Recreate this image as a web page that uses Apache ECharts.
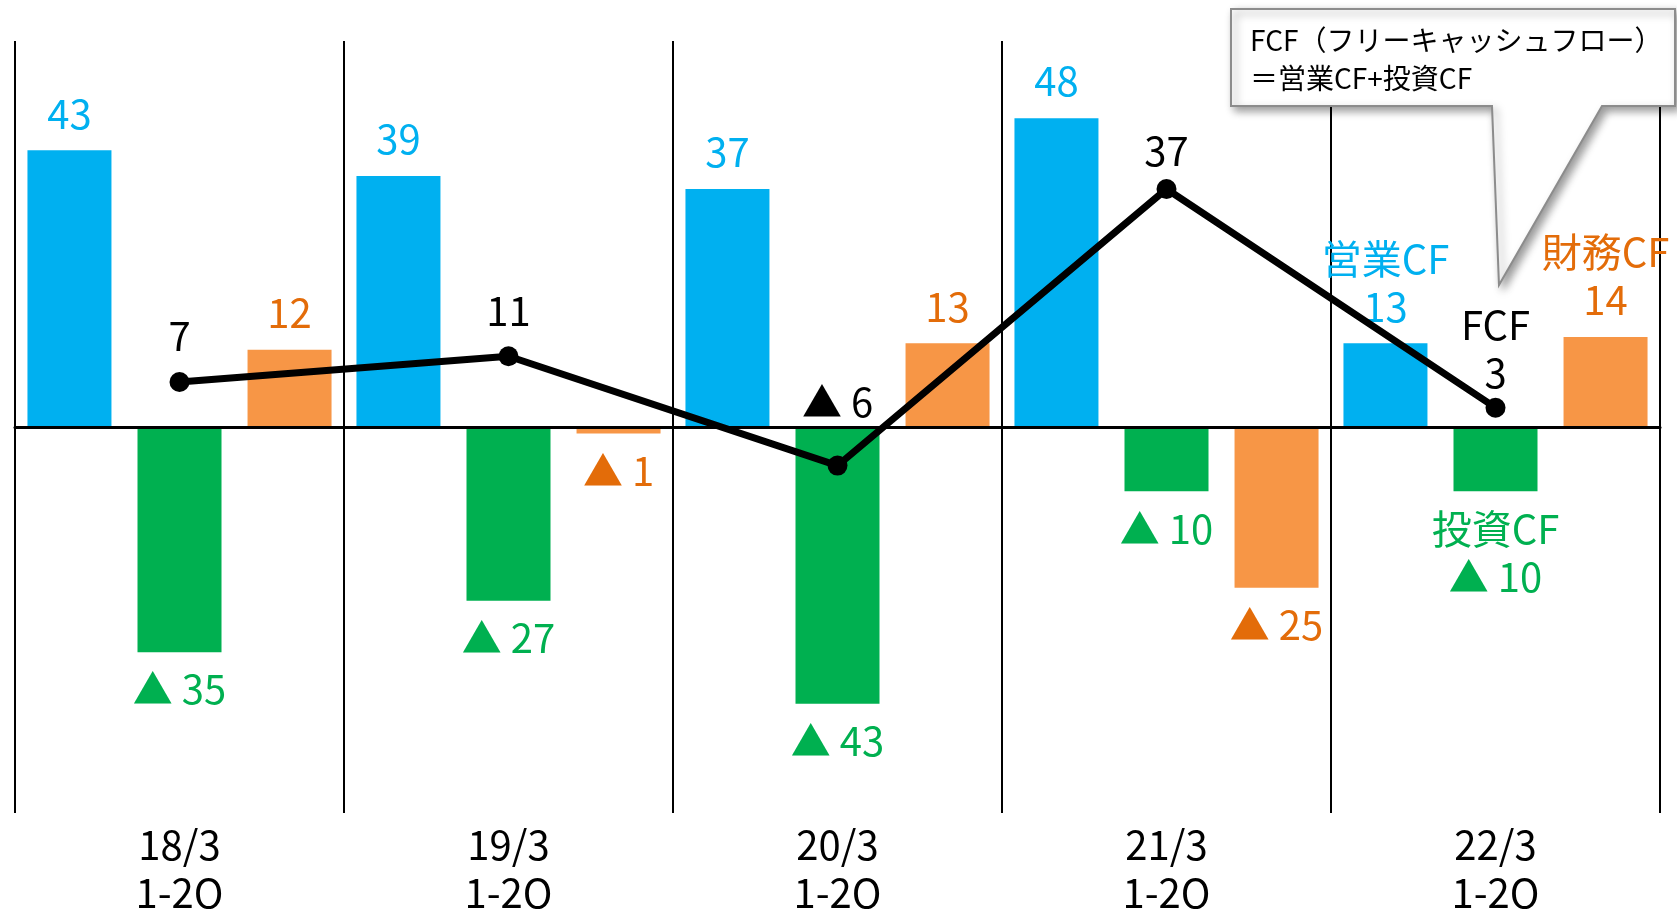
<!DOCTYPE html>
<html>
<head>
<meta charset="utf-8">
<script src="https://cdn.jsdelivr.net/npm/echarts@6/dist/echarts.min.js"></script>
<style>
html,body{margin:0;padding:0;background:#fff;}
#chart{width:1677px;height:909px;}
</style>
</head>
<body>
<div id="chart"></div>
<script>
// ---- data ----
const categories = ['18/3\n1-2Q', '19/3\n1-2Q', '20/3\n1-2Q', '21/3\n1-2Q', '22/3\n1-2Q'];
const operatingCF = [43, 39, 37, 48, 13];
const investingCF = [-35, -27, -43, -10, -10];
const financingCF = [12, -1, 13, -25, 14];
const fcf = [7, 11, -6, 37, 3];
const seriesNames = ['営業CF', '投資CF', '財務CF', 'FCF'];
const fcfLabelDistance = [12, 11, 30, 4, 1];
const calloutText = 'FCF（フリーキャッシュフロー）\n＝営業CF+投資CF';

const FONT = "'Liberation Sans Narrow', 'Noto Sans CJK JP', sans-serif";
const fmt = v => v < 0 ? '▲ ' + (-v) : String(v);

function barData(values, name) {
  return values.map((v, i) => ({
    value: v,
    label: {
      position: v < 0 ? 'bottom' : 'top',
      formatter: (i === values.length - 1 ? name + '\n' : '') + fmt(v)
    }
  }));
}

function barSeries(name, values, color, labelColor) {
  return {
    name: name,
    type: 'bar',
    barWidth: 84,
    barGap: '31%',
    itemStyle: { color: color },
    label: {
      show: true,
      color: labelColor,
      fontFamily: FONT,
      fontSize: 40,
      lineHeight: 48,
      distance: 13
    },
    data: barData(values, name)
  };
}

const chart = echarts.init(document.getElementById('chart'), null, { renderer: 'canvas' });

const option = {
  animation: false,
  backgroundColor: '#ffffff',
  grid: { left: 15, right: 17, top: 41, bottom: 96, containLabel: false, outerBoundsMode: 'none' },
  xAxis: [
    {
      type: 'category',
      data: categories,
      boundaryGap: true,
      axisLine: { show: false, onZero: false },
      axisTick: { show: false },
      splitLine: { show: true, interval: 0, lineStyle: { color: '#000', width: 2 } },
      axisLabel: {
        interval: 0,
        color: '#000',
        fontFamily: FONT,
        fontSize: 40,
        lineHeight: 48,
        margin: 8
      }
    },
    {
      type: 'category',
      data: categories,
      position: 'top',
      z: 10,
      axisLine: { show: true, onZero: true, lineStyle: { color: '#000', width: 3 } },
      axisTick: { show: false },
      axisLabel: { show: false },
      splitLine: { show: false }
    }
  ],
  yAxis: {
    type: 'value',
    min: -60,
    max: 60,
    show: false,
    splitLine: { show: false }
  },
  series: [
    barSeries(seriesNames[0], operatingCF, '#00B0F0', '#00B0F0'),
    barSeries(seriesNames[1], investingCF, '#00B050', '#00B050'),
    barSeries(seriesNames[2], financingCF, '#F79646', '#E36C09'),
    {
      name: seriesNames[3],
      type: 'line',
      z: 5,
      symbol: 'circle',
      symbolSize: 20,
      lineStyle: { color: '#000', width: 7 },
      itemStyle: { color: '#000' },
      label: {
        show: true,
        position: 'top',
        color: '#000',
        fontFamily: FONT,
        fontSize: 40,
        lineHeight: 48
      },
      data: fcf.map((v, i) => ({
        value: v,
        label: {
          distance: fcfLabelDistance[i],
          formatter: (i === fcf.length - 1 ? seriesNames[3] + '\n' : '') + fmt(v)
        }
      }))
    }
  ],
  graphic: [
    {
      type: 'polygon',
      z: 100,
      shape: {
        points: [[1231, 9], [1675, 9], [1675, 106], [1602, 106], [1499, 285], [1492, 106], [1231, 106]]
      },
      style: {
        fill: '#ffffff',
        stroke: '#8c8c8c',
        lineWidth: 2,
        shadowBlur: 8,
        shadowOffsetX: 4,
        shadowOffsetY: 4,
        shadowColor: 'rgba(0,0,0,0.4)'
      }
    },
    {
      type: 'text',
      z: 101,
      left: 1250,
      top: 21,
      style: {
        text: calloutText,
        fill: '#000',
        font: "28px " + FONT,
        lineHeight: 38
      }
    }
  ]
};

chart.setOption(option);
</script>
</body>
</html>
